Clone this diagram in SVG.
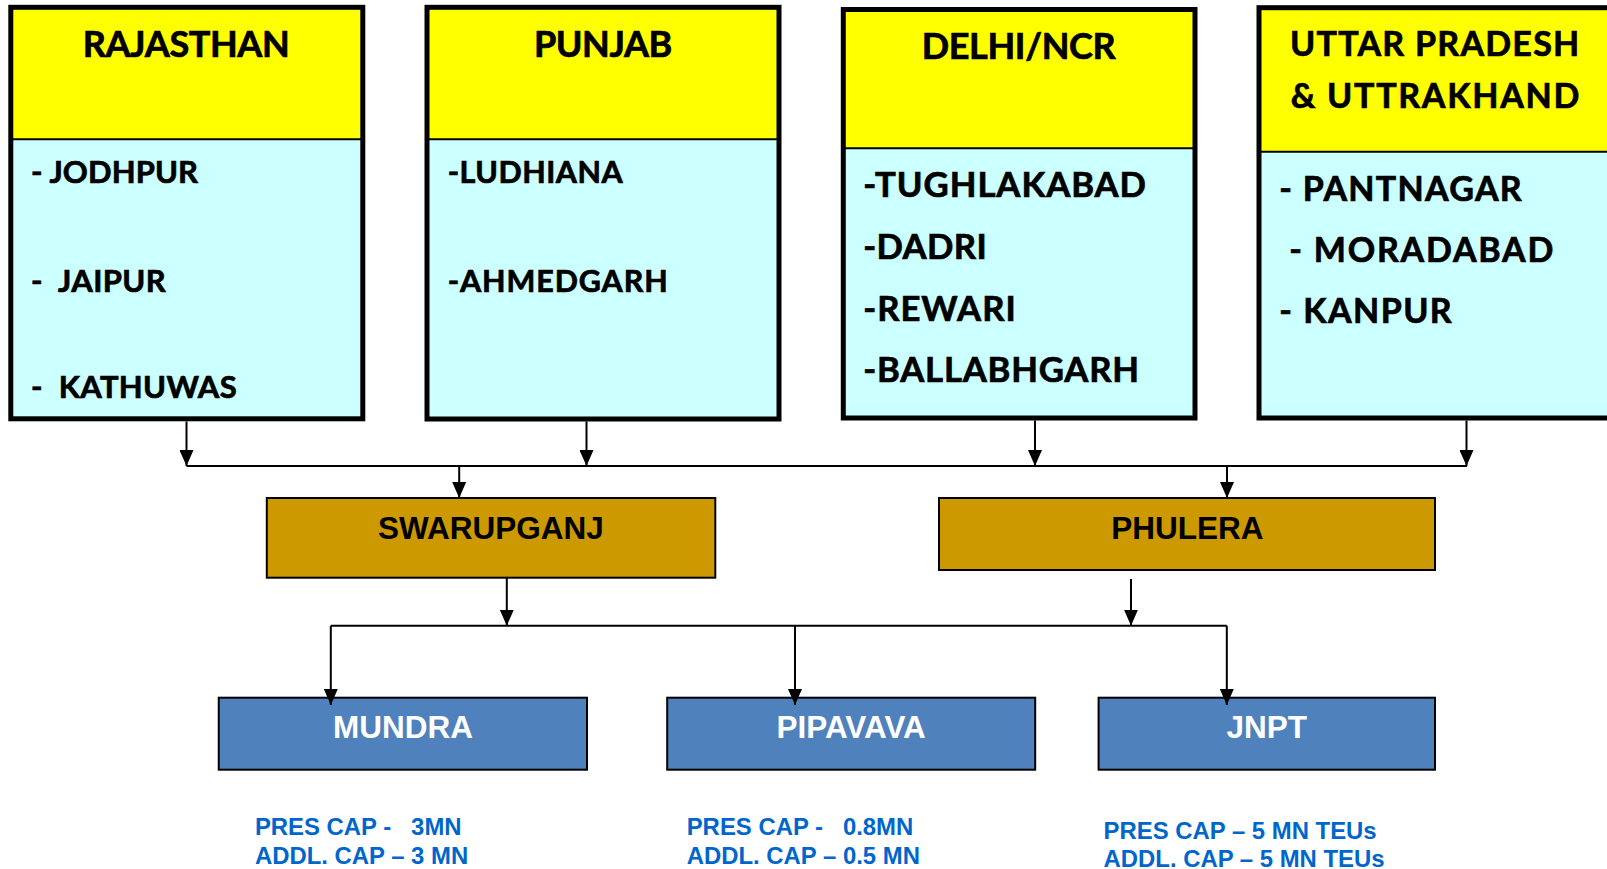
<svg xmlns="http://www.w3.org/2000/svg" width="1607" height="869" viewBox="0 0 1607 869">
<defs>
<style>
.hdr{fill:#FFFF00}
.body{fill:#CCFFFF}
.frame{fill:none;stroke:#000;stroke-width:5}
.div{stroke:#000;stroke-width:2}
.ct{font-family:Lato,'Open Sans',sans-serif;font-weight:bold;fill:#000;stroke:#000;stroke-width:0.7px}
.hub{fill:#CC9900;stroke:#000;stroke-width:2}
.port{fill:#4F81BD;stroke:#000;stroke-width:2}
.lbl{font-family:'Liberation Sans',Arial,sans-serif;font-weight:bold;font-size:31.5px;text-anchor:middle}
.cap{font-family:'Liberation Sans',Arial,sans-serif;font-weight:bold;font-size:23.9px;fill:#0066CC}
.con{fill:none;stroke:#000;stroke-width:2}
</style>
<marker id="ah" markerUnits="userSpaceOnUse" markerWidth="16" markerHeight="14" refX="16" refY="7" orient="auto">
<path d="M0,0 L16,7 L0,14 z" fill="#000"/>
</marker>
</defs>
<rect width="1607" height="869" fill="#fff"/>

<g id="rajasthan">
<rect class="hdr" x="10.8" y="7.3" width="352" height="132"/>
<rect class="body" x="10.8" y="139.3" width="352" height="279.5"/>
<line class="div" x1="10.8" y1="139.3" x2="362.8" y2="139.3"/>
<rect class="frame" x="10.8" y="7.3" width="352" height="411.5"/>
<text class="ct" font-size="36" x="82.7" y="57.3" textLength="207">RAJASTHAN</text>
<text class="ct" font-size="31" x="31" y="183.3" textLength="167" xml:space="preserve">- JODHPUR</text>
<text class="ct" font-size="31" x="31" y="291.7" textLength="134.7" xml:space="preserve">-  JAIPUR</text>
<text class="ct" font-size="31" x="31" y="398.3" textLength="205.7" xml:space="preserve">-  KATHUWAS</text>
</g>

<g id="punjab">
<rect class="hdr" x="427" y="7.3" width="352" height="132"/>
<rect class="body" x="427" y="139.3" width="352" height="279.7"/>
<line class="div" x1="427" y1="139.3" x2="779" y2="139.3"/>
<rect class="frame" x="427" y="7.3" width="352" height="411.7"/>
<text class="ct" font-size="36" x="534" y="57.3" textLength="138.3">PUNJAB</text>
<text class="ct" font-size="30.5" x="447.7" y="183.3" textLength="175">-LUDHIANA</text>
<text class="ct" font-size="30.5" x="447.7" y="291.7" textLength="220">-AHMEDGARH</text>
</g>

<g id="delhi">
<rect class="hdr" x="843.3" y="9.5" width="351.7" height="138.8"/>
<rect class="body" x="843.3" y="148.3" width="351.7" height="269.7"/>
<line class="div" x1="843.3" y1="148.3" x2="1195" y2="148.3"/>
<rect class="frame" x="843.3" y="9.5" width="351.7" height="408.5"/>
<text class="ct" font-size="36" x="921.7" y="59" textLength="194">DELHI/NCR</text>
<text class="ct" font-size="34.7" x="863.3" y="196.7" textLength="282.7">-TUGHLAKABAD</text>
<text class="ct" font-size="34.7" x="863.3" y="259" textLength="123.4">-DADRI</text>
<text class="ct" font-size="34.7" x="863.3" y="320.7" textLength="152.4">-REWARI</text>
<text class="ct" font-size="34.7" x="863.3" y="381.7" textLength="275.7">-BALLABHGARH</text>
</g>

<g id="uttar-pradesh">
<rect class="hdr" x="1259" y="7.7" width="360" height="144"/>
<rect class="body" x="1259" y="151.7" width="360" height="266.3"/>
<line class="div" x1="1259" y1="151.7" x2="1619" y2="151.7"/>
<rect class="frame" x="1259" y="7.7" width="360" height="410.3"/>
<text class="ct" font-size="34" x="1290" y="56" textLength="289.3">UTTAR PRADESH</text>
<text class="ct" font-size="34" x="1290.7" y="108.3" textLength="288.6">&amp; UTTRAKHAND</text>
<text class="ct" font-size="34" x="1279.3" y="201" textLength="242.4">- PANTNAGAR</text>
<text class="ct" font-size="34" x="1289.3" y="262.3" textLength="264">- MORADABAD</text>
<text class="ct" font-size="34" x="1279.3" y="323.3" textLength="172.4">- KANPUR</text>
</g>

<g id="swarupganj">
<rect class="hub" x="266.8" y="498" width="448.5" height="79.7"/>
<text class="lbl" x="491" y="539.3" fill="#000">SWARUPGANJ</text>
</g>

<g id="phulera">
<rect class="hub" x="939" y="498" width="496" height="72"/>
<text class="lbl" x="1187.3" y="539.3" fill="#000">PHULERA</text>
</g>

<g id="mundra">
<rect class="port" x="218.75" y="697.7" width="368.25" height="72"/>
<text class="lbl" x="403" y="738.3" fill="#fff">MUNDRA</text>
<text class="cap" x="254.9" y="835" xml:space="preserve">PRES CAP -   3MN</text>
<text class="cap" x="254.9" y="864" xml:space="preserve">ADDL. CAP – 3 MN</text>
</g>

<g id="pipavava">
<rect class="port" x="667.2" y="697.7" width="368" height="72"/>
<text class="lbl" x="851.2" y="738.3" fill="#fff">PIPAVAVA</text>
<text class="cap" x="686.7" y="835" xml:space="preserve">PRES CAP -   0.8MN</text>
<text class="cap" x="686.7" y="864" xml:space="preserve">ADDL. CAP – 0.5 MN</text>
</g>

<g id="jnpt">
<rect class="port" x="1098.6" y="697.7" width="336.4" height="72"/>
<text class="lbl" x="1266.8" y="738.3" fill="#fff">JNPT</text>
<text class="cap" x="1103.6" y="838.5">PRES CAP – 5 MN TEUs</text>
<text class="cap" x="1103.6" y="866.5">ADDL. CAP – 5 MN TEUs</text>
</g>

<g id="connectors">
<path class="con" d="M186.5,421.5 V466" marker-end="url(#ah)"/>
<path class="con" d="M586.5,421.5 V466" marker-end="url(#ah)"/>
<path class="con" d="M1035,420.5 V466" marker-end="url(#ah)"/>
<path class="con" d="M1466.5,420.5 V466" marker-end="url(#ah)"/>
<path class="con" d="M186.5,466 H1467"/>
<path class="con" d="M459.2,466 V498" marker-end="url(#ah)"/>
<path class="con" d="M1227,466 V498" marker-end="url(#ah)"/>
<path class="con" d="M506.8,578 V625.7" marker-end="url(#ah)"/>
<path class="con" d="M1131,579 V625.7" marker-end="url(#ah)"/>
<path class="con" d="M330.8,625.7 H1226.8"/>
<path class="con" d="M330.8,625.7 V705" marker-end="url(#ah)"/>
<path class="con" d="M795,625.7 V705" marker-end="url(#ah)"/>
<path class="con" d="M1226.8,625.7 V705" marker-end="url(#ah)"/>
</g>
</svg>
